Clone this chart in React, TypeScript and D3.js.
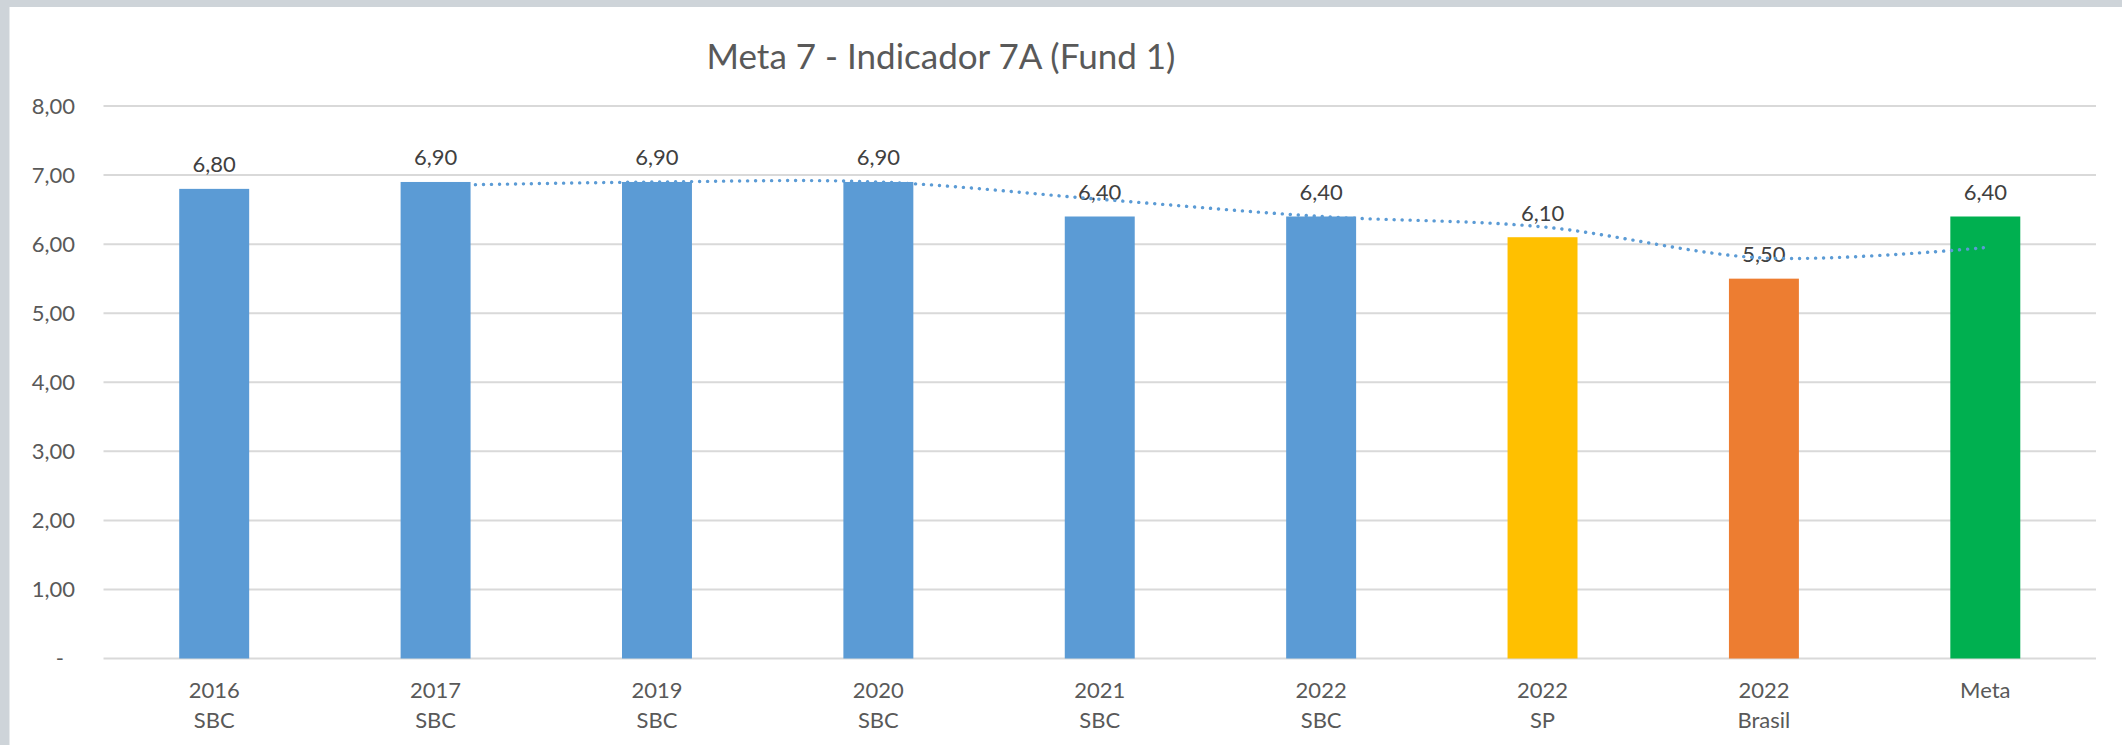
import React from "react";
import * as d3 from "d3";

// ---- data ----
const categoryTop = ["2016", "2017", "2019", "2020", "2021", "2022", "2022", "2022", "Meta"];
const categoryBottom = ["SBC", "SBC", "SBC", "SBC", "SBC", "SBC", "SP", "Brasil", ""];
const values = [6.8, 6.9, 6.9, 6.9, 6.4, 6.4, 6.1, 5.5, 6.4];
const barColors = ["#5B9BD5", "#5B9BD5", "#5B9BD5", "#5B9BD5", "#5B9BD5", "#5B9BD5", "#FFC000", "#ED7D31", "#00B050"];
// 2-period moving average trendline as shown (starts at 2nd category)
const trendValues: (number | null)[] = [null, 6.85, 6.9, 6.9, 6.65, 6.4, 6.25, 5.8, 5.95];
const yTicks = [0, 1, 2, 3, 4, 5, 6, 7, 8];
const title = "Meta 7 - Indicador 7A (Fund 1)";

const W = 2122;
const H = 745;
const FONT = "Lato, 'Open Sans', sans-serif";

const fmt = (v: number) => (v === 0 ? "-" : v.toFixed(2).replace(".", ","));

export default function App() {
  const keys = categoryTop.map((_, i) => String(i));
  const x = d3.scaleBand<string>().domain(keys).range([103.5, 2096]).paddingInner(0).paddingOuter(0);
  const y = d3.scaleLinear().domain([0, 8]).range([658.5, 106]);
  const bw = x.bandwidth() * 0.316;

  const trendPts = trendValues
    .map((v, i) => (v == null ? null : ([x(keys[i])! + x.bandwidth() / 2, y(v)] as [number, number])))
    .filter((p): p is [number, number] => p !== null);
  const line = d3.line().curve(d3.curveCatmullRom.alpha(0.5));
  const trendPath = line(trendPts) || "";

  return (
    <svg
      width={W}
      height={H}
      style={{ position: "absolute", left: 0, top: 0, display: "block" }}
      fontFamily={FONT}
    >
      <rect x={0} y={0} width={W} height={H} fill="#CED4D9" />
      <rect x={9.5} y={7} width={W - 9.5} height={H - 7} fill="#FFFFFF" />

      <text x={941} y={69} textAnchor="middle" fontSize={35} fill="#595959">
        {title}
      </text>

      {yTicks.map((t) => (
        <g key={t}>
          <line x1={103.5} x2={2096} y1={y(t)} y2={y(t)} stroke="#D9D9D9" strokeWidth={2} />
          <text
            x={t === 0 ? 64 : 75}
            y={y(t)}
            dy="0.36em"
            textAnchor="end"
            fontSize={22}
            fill="#595959"
          >
            {fmt(t)}
          </text>
        </g>
      ))}

      {values.map((v, i) => {
        const cx = x(keys[i])! + x.bandwidth() / 2;
        return (
          <g key={i}>
            <rect x={cx - bw / 2} y={y(v)} width={bw} height={y(0) - y(v)} fill={barColors[i]} />
            <text x={cx} y={y(v) - 16.5} textAnchor="middle" fontSize={22} fill="#404040">
              {fmt(v)}
            </text>
            <text x={cx} y={698} textAnchor="middle" fontSize={22} fill="#595959">
              {categoryTop[i]}
            </text>
            {categoryBottom[i] && (
              <text x={cx} y={727.5} textAnchor="middle" fontSize={22} fill="#595959">
                {categoryBottom[i]}
              </text>
            )}
          </g>
        );
      })}

      <path
        d={trendPath}
        fill="none"
        stroke="#5B9BD5"
        strokeWidth={3.4}
        strokeDasharray="0.1 7.9"
        strokeLinecap="round"
      />
    </svg>
  );
}
